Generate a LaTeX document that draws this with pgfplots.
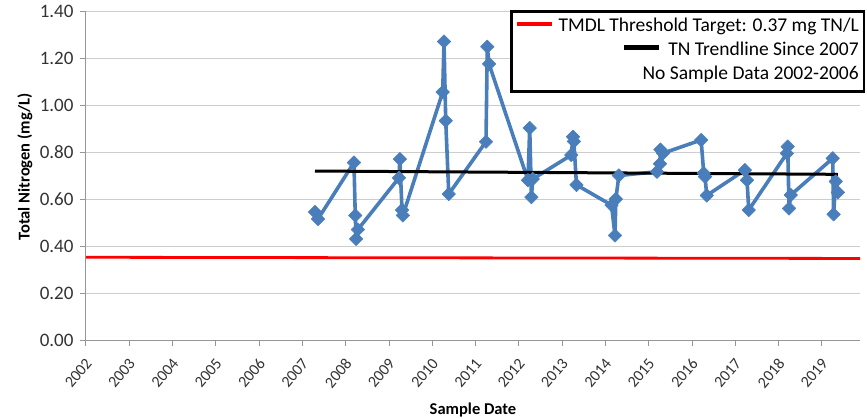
\documentclass[border=0pt]{standalone}
\usepackage{pgfplots}
\pgfplotsset{compat=1.18}
\usepackage{fontspec}
\setmainfont{Carlito}

\definecolor{tnblue}{RGB}{74,126,187}
\definecolor{gridgray}{RGB}{205,205,205}
\definecolor{axisgray}{RGB}{150,150,150}

\begin{document}
\begin{tikzpicture}
\useasboundingbox (-86pt,-78pt) rectangle (781pt,340pt);
\begin{axis}[
  at={(0pt,0pt)}, anchor=south west,
  scale only axis,
  width=774pt, height=329pt,
  xmin=2002, xmax=2019.88,
  ymin=0, ymax=1.4,
  axis x line*=bottom, axis y line*=left,
  axis line style={axisgray, line width=1pt, -},
  xtick={2002,2003,2004,2005,2006,2007,2008,2009,2010,2011,2012,2013,2014,2015,2016,2017,2018,2019},
  ytick={0,0.2,0.4,0.6,0.8,1.0,1.2,1.4},
  ymajorgrids, grid style={gridgray, line width=1pt},
  tick align=outside, major tick length=6pt,
  tick style={axisgray, line width=1pt},
  /pgf/number format/assume math mode=true,
  xticklabel style={xshift=5pt, yshift=-12pt, rotate=50, anchor=east,
    font=\fontsize{16}{18}\selectfont, text=black!80,
    /pgf/number format/1000 sep={}},
  yticklabel style={xshift=-3pt, font=\fontsize{19}{21}\selectfont, text=black!80,
    /pgf/number format/fixed, /pgf/number format/fixed zerofill, /pgf/number format/precision=2},
  xlabel={Sample Date},
  xlabel style={at={(axis description cs:0.5,-0.2128)}, anchor=center, font=\fontsize{16.5}{18}\selectfont\bfseries},
  ylabel={Total Nitrogen (mg/L)},
  ylabel style={at={(axis description cs:-0.0788,0.526)}, anchor=center, font=\fontsize{16.5}{18}\selectfont\bfseries},
  legend style={at={(rel axis cs:1,1)}, anchor=north east, xshift=5pt, yshift=1pt,
    draw=black, line width=2.5pt, fill=white,
    font=\fontsize{19.5}{22}\selectfont,
    inner xsep=5pt, inner ysep=7pt, row sep=6pt, column sep=0pt,
    nodes={inner sep=0pt, text height=13pt, text depth=5pt}},
  legend cell align=right,
]
% measured samples
\addplot[tnblue, line width=3.6pt, line join=round, mark=square*, mark size=4.8pt,
  mark options={rotate=45, solid, fill=tnblue, draw=tnblue, line width=0.5pt}, forget plot]
  coordinates {
  (2007.29,0.545) (2007.36,0.515)
  (2008.19,0.755) (2008.22,0.53) (2008.24,0.43) (2008.28,0.47)
  (2009.23,0.69) (2009.25,0.77) (2009.30,0.553) (2009.32,0.53)
  (2010.24,1.055) (2010.27,1.27) (2010.31,0.933) (2010.38,0.621)
  (2011.24,0.844) (2011.27,1.248) (2011.31,1.175)
  (2012.21,0.68) (2012.25,0.902) (2012.29,0.608) (2012.32,0.685)
  (2013.21,0.787) (2013.25,0.865) (2013.27,0.845) (2013.33,0.66)
  (2014.14,0.574) (2014.22,0.445) (2014.24,0.60) (2014.31,0.70)
  (2015.19,0.716) (2015.26,0.75) (2015.27,0.81) (2015.33,0.795)
  (2016.21,0.851) (2016.27,0.71) (2016.30,0.695) (2016.34,0.615)
  (2017.22,0.723) (2017.27,0.68) (2017.31,0.553)
  (2018.19,0.794) (2018.21,0.823) (2018.24,0.56) (2018.28,0.617)
  (2019.25,0.773) (2019.27,0.535) (2019.32,0.675) (2019.37,0.628)
  };
% trend line
\addplot[black, line width=3pt, forget plot] coordinates {(2007.29,0.719) (2019.37,0.705)};
% threshold
\addplot[red, line width=2.8pt, forget plot] coordinates {(2002,0.352) (2019.88,0.347)};

\addlegendimage{empty legend}
\addlegendentry{\textcolor{red}{\rule[0.27em]{35pt}{4pt}}\hspace{7pt}TMDL Threshold Target: 0.37 mg TN/L\hspace{6pt}}
\addlegendimage{empty legend}
\addlegendentry{\textcolor{black}{\rule[0.27em]{35pt}{4.5pt}}\hspace{9pt}TN Trendline Since 2007\hspace{6pt}}
\addlegendimage{empty legend}
\addlegendentry{No Sample Data 2002-2006\hspace{6pt}}
\end{axis}
\end{tikzpicture}
\end{document}
